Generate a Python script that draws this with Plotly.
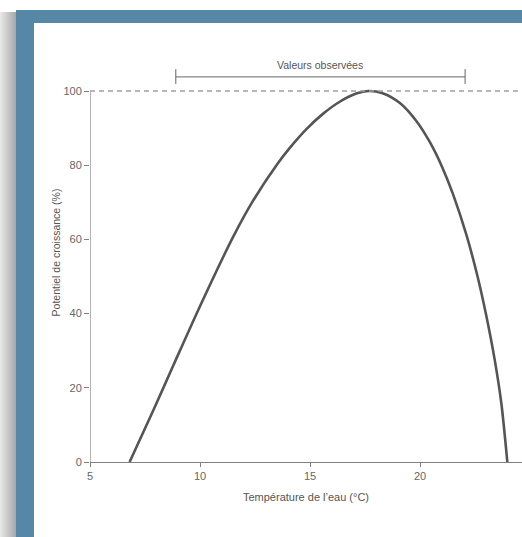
import plotly.graph_objects as go

# growth potential vs water temperature
temp = [6.8, 7.9, 8.8, 10.0, 11.5, 12.4, 13.5, 14.1, 14.85, 15.6, 16.35, 17.1, 17.65,
        18.3, 19.1, 19.85, 20.45, 21.0, 21.5, 22.1, 22.6, 23.0, 23.4, 23.7, 23.97]
growth = [0, 14.2, 26.2, 42.0, 60.6, 70.3, 80.2, 84.8, 89.8, 93.9, 97.1, 99.3, 100,
          99.4, 96.7, 91.8, 86.2, 79.6, 72.2, 61.4, 50.4, 39.8, 27.4, 15.7, 0]

x_ticks = [5, 10, 15, 20]
y_ticks = [0, 20, 40, 60, 80, 100]

obs_range = [8.9, 22.05]
obs_label = "Valeurs observées"
x_title = "Température de l’eau (°C)"
y_title = "Potentiel de croissance (%)"

W, H = 522, 537
ML, MR, MT, MB = 90, 0, 43, 75
pw, ph = W - ML - MR, H - MT - MB


def px(x):
    return (x - ML) / pw


def py(y):
    return (H - MB - y) / ph


fig = go.Figure()

fig.add_trace(go.Scatter(
    x=temp, y=growth, mode="lines",
    line=dict(color="#555555", width=2.6, shape="spline", smoothing=0.8),
    hoverinfo="skip", showlegend=False,
))

shapes = []
# frame shadow on the left
for i in range(16):
    g = int(232 - i * 4.2)
    shapes.append(dict(type="rect", xref="paper", yref="paper", layer="below",
                       x0=px(i), x1=px(i + 1), y0=py(H + 5), y1=py(12),
                       fillcolor=f"rgb({g},{g},{g})", line=dict(width=0)))
# blue frame + white panel
shapes.append(dict(type="rect", xref="paper", yref="paper", layer="below",
                   x0=px(16), x1=px(W + 5), y0=py(H + 5), y1=py(10),
                   fillcolor="#5687a7", line=dict(width=0)))
shapes.append(dict(type="rect", xref="paper", yref="paper", layer="below",
                   x0=px(34), x1=px(W + 5), y0=py(H + 5), y1=py(23),
                   fillcolor="white", line=dict(width=0)))

# y axis line (stops at 100)
shapes.append(dict(type="line", xref="x", yref="y", x0=5, x1=5, y0=0, y1=100,
                   line=dict(color="#808080", width=1.2)))
# dashed 100% line
shapes.append(dict(type="line", xref="paper", yref="y", x0=0, x1=1, y0=100, y1=100,
                   line=dict(color="#a0a0a0", width=1.3, dash="5px,4px")))
# observed range bracket
shapes.append(dict(type="line", xref="x", yref="y", x0=obs_range[0], x1=obs_range[1],
                   y0=103.8, y1=103.8, line=dict(color="#666666", width=1)))
for xv in obs_range:
    shapes.append(dict(type="line", xref="x", yref="y", x0=xv, x1=xv,
                       y0=101.9, y1=105.9, line=dict(color="#666666", width=1)))

fig.update_layout(
    width=W, height=H,
    margin=dict(l=ML, r=MR, t=MT, b=MB),
    paper_bgcolor="white",
    plot_bgcolor="rgba(0,0,0,0)",
    font=dict(family="Liberation Sans, Arial, sans-serif", color="#666666", size=11),
    shapes=shapes,
    annotations=[dict(
        x=sum(obs_range) / 2, y=103.8, xref="x", yref="y",
        text=obs_label, showarrow=False, yanchor="bottom", yshift=4,
        font=dict(size=10.5, color="#555555"),
    )],
)

fig.update_xaxes(
    range=[5, 5 + pw / 22], tickvals=x_ticks, ticks="outside", ticklen=4,
    tickcolor="#808080", showline=True, linecolor="#808080", linewidth=1.2,
    showgrid=False, zeroline=False,
    title=dict(text=x_title, font=dict(size=11, color="#555555"), standoff=12),
)
fig.update_yaxes(
    range=[0, (H - MB - MT) / 3.71], tickvals=y_ticks, ticks="outside", ticklen=5,
    tickcolor="#808080", showline=False, showgrid=False, zeroline=False,
    title=dict(text=y_title, font=dict(size=10.5, color="#555555"), standoff=0),
)

fig.write_html("out.html", config={"displayModeBar": False},
               post_script="document.body.style.margin='0';document.body.style.overflow='hidden';")
